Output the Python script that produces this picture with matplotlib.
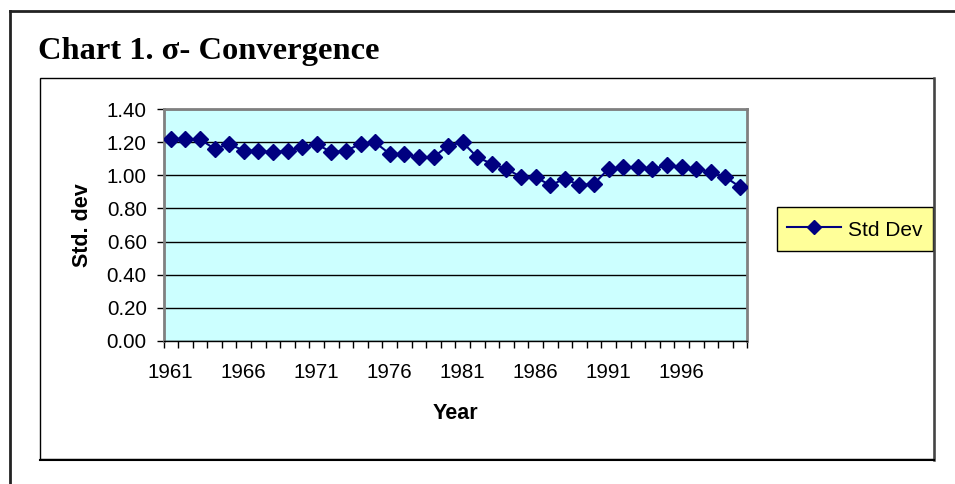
import matplotlib
matplotlib.use('Agg')
import matplotlib.pyplot as plt
from matplotlib.lines import Line2D
from matplotlib.patches import Rectangle

# Daten
years = list(range(1961, 2001))
std_dev = [1.22, 1.22, 1.22, 1.16, 1.19, 1.15, 1.15, 1.14, 1.15, 1.17,
           1.19, 1.14, 1.15, 1.19, 1.20, 1.13, 1.13, 1.11, 1.11, 1.18,
           1.20, 1.11, 1.07, 1.04, 0.99, 0.99, 0.94, 0.98, 0.94, 0.95,
           1.04, 1.05, 1.05, 1.04, 1.06, 1.05, 1.04, 1.02, 0.99, 0.93]
y_ticks = [0.0, 0.2, 0.4, 0.6, 0.8, 1.0, 1.2, 1.4]
label_step = 5

W, H = 955, 484
fig = plt.figure(figsize=(W / 100, H / 100), dpi=100)
fig.patch.set_facecolor('white')


def fx(px):
    return px / W


def fy(py):
    return 1 - py / H


# Aeusserer Rahmen (nur links und oben sichtbar)
fig.add_artist(Line2D([fx(9.5), fx(9.5)], [fy(11), fy(490)], color='#222222', lw=2))
fig.add_artist(Line2D([fx(9.5), fx(960)], [fy(11), fy(11)], color='#222222', lw=2))

# Diagrammrahmen
fig.add_artist(Rectangle((fx(40), fy(459)), fx(934) - fx(40), fy(78) - fy(459),
                         transform=fig.transFigure, fill=False, edgecolor='black', lw=1))
fig.add_artist(Line2D([fx(934), fx(934)], [fy(78), fy(460)], color='#444444', lw=1.8))
fig.add_artist(Line2D([fx(40), fx(934)], [fy(459.5), fy(459.5)], color='black', lw=1.5))

# Titel
fig.text(fx(38), fy(59), 'Chart 1. \u03c3- Convergence', family='Liberation Serif',
         fontweight='bold', fontsize=23.4, va='baseline', ha='left')

ax = fig.add_axes([fx(163.5), fy(340.7), fx(747.3) - fx(163.5), fy(109.3) - fy(340.7)])
ax.set_facecolor('#CCFFFF')

x = list(range(len(years)))
ax.plot(x, std_dev, color='#000080', lw=1.5, marker='D', markersize=8,
        markerfacecolor='#000080', markeredgecolor='#000080', label='Std Dev', zorder=3)

ax.set_xlim(-0.5, len(years) - 0.5)
ax.set_ylim(0, 1.4)
ax.set_yticks(y_ticks)
ax.set_yticklabels(['%.2f' % v for v in y_ticks])
ax.set_xticks(x[::label_step])
ax.set_xticklabels([str(y) for y in years[::label_step]])
ax.set_xticks([i - 0.5 for i in range(len(years) + 1)], minor=True)
ax.tick_params(axis='x', which='major', length=0, pad=16)
ax.tick_params(axis='x', which='minor', length=5, width=1, direction='out', color='black')
ax.tick_params(axis='y', length=5, width=1, direction='out', pad=7)
for lab in ax.get_xticklabels() + ax.get_yticklabels():
    lab.set_family('Liberation Sans')
    lab.set_fontsize(14.8)

ax.grid(axis='y', color='black', lw=1)
ax.set_axisbelow(True)
for s in ['left', 'right', 'top']:
    ax.spines[s].set_color('#808080')
    ax.spines[s].set_linewidth(2)
ax.spines['bottom'].set_color('black')
ax.spines['bottom'].set_linewidth(1)

ax.set_xlabel('Year', family='Liberation Sans', fontweight='bold', fontsize=15.5, labelpad=15)
ax.set_ylabel('Std. dev', family='Liberation Sans', fontweight='bold', fontsize=15.5, labelpad=10)

leg = ax.legend(loc='center', bbox_to_anchor=(fx(854.7), fy(229)), bbox_transform=fig.transFigure,
                prop={'family': 'Liberation Sans', 'size': 15}, fancybox=False, framealpha=1,
                facecolor='#FFFF99', edgecolor='black', handlelength=2.6, handleheight=1.3,
                handletextpad=0.3, borderpad=0.5, borderaxespad=0, markerscale=0.9)
leg.get_frame().set_linewidth(1)

fig.savefig('out.png', dpi=100)
